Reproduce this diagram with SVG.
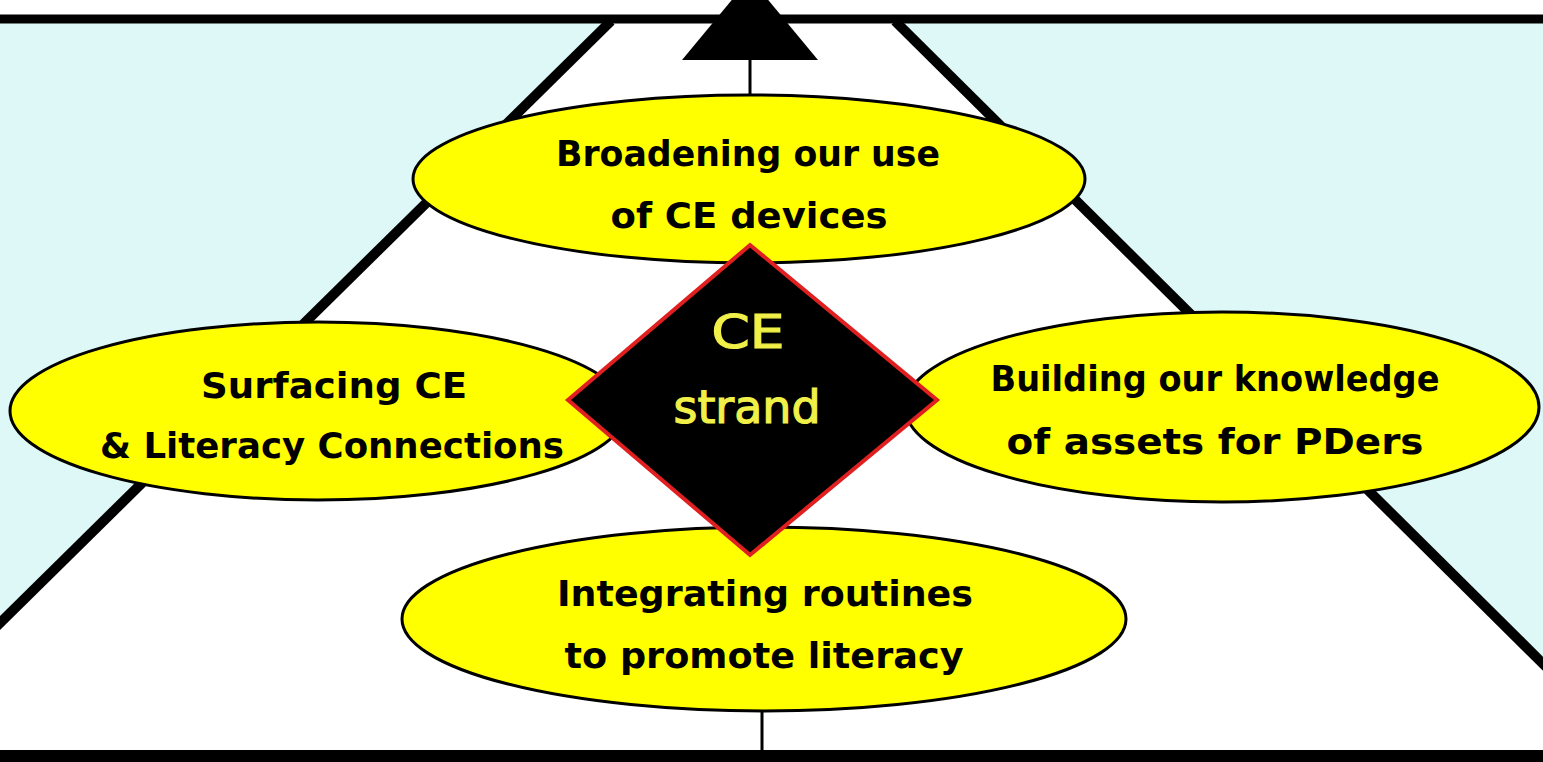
<svg xmlns="http://www.w3.org/2000/svg" width="1543" height="762" viewBox="0 0 1543 762">
<style>
.frame{stroke:#000;stroke-width:10;fill:none;stroke-linecap:butt}
.oval{fill:#ffff00;stroke:#000;stroke-width:3}
.lbl{font-family:"DejaVu Sans","Liberation Sans",sans-serif;font-weight:bold;font-size:36px;fill:#000;text-anchor:middle}
.ce{font-family:"DejaVu Sans","Liberation Sans",sans-serif;font-size:46px;fill:#f0f048;stroke:#f0f048;stroke-width:1.2;text-anchor:middle}
.conn{stroke:#000;stroke-width:3;fill:none}
</style>
<defs>
<marker id="arrow" markerUnits="userSpaceOnUse" viewBox="0 0 82 136" refX="80" refY="68" markerWidth="82" markerHeight="136" orient="auto">
<path d="M0,0 L82,68 L0,136 z" fill="#000"/>
</marker>
</defs>
<rect x="0" y="0" width="1543" height="762" fill="#fff"/>
<rect x="0" y="23" width="1543" height="727" fill="#def8f8"/>
<polygon points="609,23 897,23 1630,750 -129,750" fill="#fff"/>
<g id="frame">
<line class="frame" x1="0" y1="19" x2="1543" y2="19" style="stroke-width:9"/>
<line class="frame" x1="0" y1="756" x2="1543" y2="756" style="stroke-width:12"/>
<line class="frame" x1="611" y1="21" x2="-129" y2="750"/>
<line class="frame" x1="895" y1="21" x2="1630" y2="750"/>
</g>
<g id="connectors">
<line class="conn" x1="750" y1="97" x2="750" y2="-20" marker-end="url(#arrow)"/>
<line class="conn" x1="762" y1="710" x2="762" y2="762"/>
</g>
<g id="node-top">
<ellipse class="oval" cx="749" cy="179" rx="336" ry="84"/>
<text class="lbl" x="748" y="166" textLength="384" lengthAdjust="spacingAndGlyphs">Broadening our use</text>
<text class="lbl" x="749" y="228" textLength="277" lengthAdjust="spacingAndGlyphs">of CE devices</text>
</g>
<g id="node-left">
<ellipse class="oval" cx="318" cy="411" rx="308" ry="89"/>
<text class="lbl" x="334" y="398" textLength="266" lengthAdjust="spacingAndGlyphs">Surfacing CE</text>
<text class="lbl" x="332" y="458" textLength="464" lengthAdjust="spacingAndGlyphs">&amp; Literacy Connections</text>
</g>
<g id="node-right">
<ellipse class="oval" cx="1222" cy="407" rx="317" ry="95"/>
<text class="lbl" x="1215" y="391" textLength="449" lengthAdjust="spacingAndGlyphs">Building our knowledge</text>
<text class="lbl" x="1215" y="454" textLength="417" lengthAdjust="spacingAndGlyphs">of assets for PDers</text>
</g>
<g id="node-bottom">
<ellipse class="oval" cx="764" cy="619" rx="362" ry="92"/>
<text class="lbl" x="765" y="606" textLength="416" lengthAdjust="spacingAndGlyphs">Integrating routines</text>
<text class="lbl" x="764" y="668" textLength="399" lengthAdjust="spacingAndGlyphs">to promote literacy</text>
</g>
<g id="node-center">
<polygon points="750,245 937,400 750,555 568,400" fill="#000" stroke="#e02020" stroke-width="4" stroke-linejoin="miter"/>
<text class="ce" x="748" y="348" textLength="73" lengthAdjust="spacingAndGlyphs">CE</text>
<text class="ce" x="747" y="423" textLength="147" lengthAdjust="spacingAndGlyphs">strand</text>
</g>
</svg>
